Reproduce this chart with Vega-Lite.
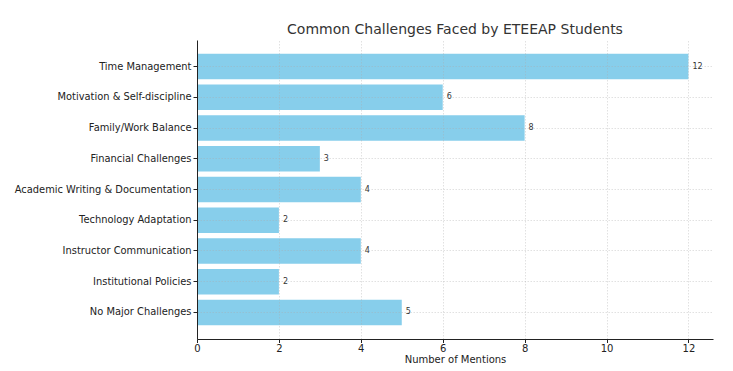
{
  "$schema": "https://vega.github.io/schema/vega-lite/v6.json",
  "autosize": {"type": "none"},
  "padding": {"left": 197, "top": 40, "right": 20, "bottom": 32},
  "width": 516,
  "height": 299,
  "background": "white",
  "title": {"text": "Common Challenges Faced by ETEEAP Students", "font": "DejaVu Sans", "fontSize": 14, "fontWeight": "normal", "color": "#333333", "anchor": "middle", "offset": 3},
  "data": {"values": [
    {"challenge": "Time Management", "mentions": 12},
    {"challenge": "Motivation & Self-discipline", "mentions": 6},
    {"challenge": "Family/Work Balance", "mentions": 8},
    {"challenge": "Financial Challenges", "mentions": 3},
    {"challenge": "Academic Writing & Documentation", "mentions": 4},
    {"challenge": "Technology Adaptation", "mentions": 2},
    {"challenge": "Instructor Communication", "mentions": 4},
    {"challenge": "Institutional Policies", "mentions": 2},
    {"challenge": "No Major Challenges", "mentions": 5}
  ]},
  "encoding": {
    "y": {"field": "challenge", "type": "nominal", "sort": null,
      "scale": {"paddingInner": 0.17, "paddingOuter": 0.45},
      "axis": {"title": null, "bandPosition": 0.5, "grid": true, "gridDash": [1.5, 1.5], "gridColor": "#aaaaaa", "gridOpacity": 0.45, "gridWidth": 0.8, "zindex": 1,
        "labelFont": "DejaVu Sans", "labelFontSize": 9.9, "labelColor": "#222222", "labelPadding": 2,
        "tickColor": "#222222", "tickSize": 4, "domainColor": "#222222", "domainWidth": 1}},
    "x": {"field": "mentions", "type": "quantitative",
      "scale": {"domain": [0, 12.6], "nice": false},
      "axis": {"title": "Number of Mentions", "values": [0, 2, 4, 6, 8, 10, 12], "grid": true, "gridDash": [1.5, 1.5], "gridColor": "#aaaaaa", "gridOpacity": 0.45, "gridWidth": 0.8, "zindex": 1,
        "labelFont": "DejaVu Sans", "labelFontSize": 10, "labelColor": "#222222", "labelPadding": 1, "labelFlush": false,
        "titleFont": "DejaVu Sans", "titleFontSize": 10, "titleFontWeight": "normal", "titleColor": "#222222", "titlePadding": 1,
        "tickColor": "#222222", "tickSize": 3.5, "domainColor": "#222222", "domainWidth": 1}}
  },
  "layer": [
    {"mark": {"type": "bar", "color": "#87CEEB"}},
    {"mark": {"type": "text", "align": "left", "dx": 4, "font": "DejaVu Sans", "fontSize": 8, "color": "#333333"},
     "encoding": {"text": {"field": "mentions", "type": "quantitative"}}}
  ],
  "config": {"view": {"stroke": null}}
}
